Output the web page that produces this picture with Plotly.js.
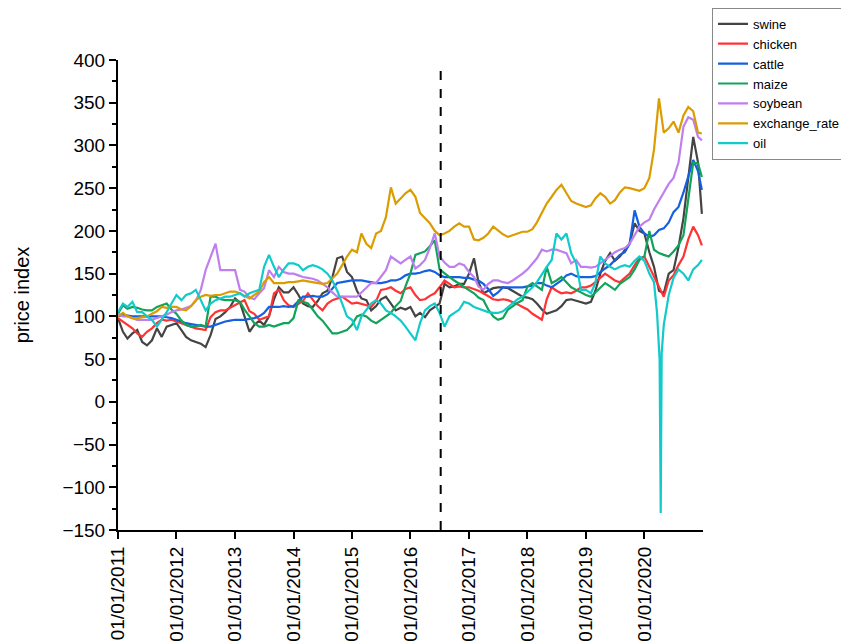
<!DOCTYPE html>
<html><head><meta charset="utf-8">
<script src="https://cdn.plot.ly/plotly-3.0.1.min.js"></script>
<style>html,body{margin:0;padding:0;background:#fff}#chart{width:841px;height:644px}</style>
</head><body><div id="chart"></div><script>
// monthly observation dates (1st of each month, 2011-01 .. 2020-12) plus the last observation
const months = [];
for (let y = 2011; y <= 2020; y++) for (let m = 1; m <= 12; m++) months.push(y + '-' + String(m).padStart(2, '0') + '-01');
months.push('2020-12-25');

const swine = [98,82,74,80,84,70,66,72,86,76,88,90,
 92,84,76,72,70,68,64,78,97,100,105,111,
 121,116,100,82,90,95,90,100,120,134,128,128,
 134,125,115,112,111,118,127,130,146,168,170,152,
 146,130,121,119,107,112,120,123,115,107,110,108,
 111,100,104,99,107,111,115,138,134,135,138,138,
 150,168,140,127,130,133,134,134,133,130,126,123,
 122,120,115,108,103,105,107,112,119,120,118,117,
 115,117,130,150,165,174,165,170,177,185,209,200,
 197,175,158,130,127,150,154,181,215,260,310,280,220];

const chicken = [98,94,90,86,80,76,82,86,92,96,95,96,
 94,92,90,88,86,85,84,99,105,107,107,110,
 113,116,119,106,103,96,98,100,127,131,119,113,
 111,115,118,127,119,112,107,115,119,121,123,119,
 115,116,115,113,111,118,131,132,134,130,127,132,
 134,125,119,120,124,127,134,142,138,134,135,134,
 134,132,130,127,124,120,119,120,119,117,114,111,
 108,103,100,96,120,134,130,127,128,127,130,134,
 134,136,140,145,150,146,142,140,145,150,160,168,
 170,158,145,135,123,142,148,160,170,190,205,195,183];

const cattle = [100,102,101,100,100,100,100,100,100,100,99,98,
 96,94,92,91,90,89,88,88,90,92,94,95,
 96,96,96,97,98,100,104,111,111,111,112,111,
 112,118,123,123,124,123,123,126,133,139,140,141,
 142,142,142,141,140,139,139,140,142,142,144,148,
 150,150,151,153,154,152,148,146,146,146,146,145,
 145,143,142,138,132,124,128,134,134,134,134,134,
 135,136,139,139,136,134,138,142,148,150,147,146,
 146,146,147,152,156,160,166,172,175,185,224,205,
 197,193,195,201,203,210,222,228,245,265,283,270,248];

const maize = [103,113,109,111,110,108,107,107,111,113,115,108,
 103,95,90,88,88,90,88,123,123,120,119,119,
 119,117,108,100,92,88,88,90,88,90,92,92,
 98,119,117,115,108,100,95,88,80,80,82,84,
 90,100,102,100,95,92,96,100,104,112,118,135,
 150,172,174,176,182,189,155,150,146,142,138,134,
 130,127,122,119,108,100,96,98,108,112,116,119,
 135,139,135,131,158,139,142,146,140,134,131,128,
 125,123,128,134,139,135,131,138,142,146,155,166,
 170,200,178,174,172,170,176,183,195,236,280,279,263];

const soybean = [103,100,100,98,96,96,96,96,98,100,102,105,
 107,108,110,112,118,131,154,170,185,154,154,154,
 154,131,129,122,120,127,133,154,146,158,152,150,
 150,148,146,145,144,142,138,134,128,123,123,123,
 123,123,128,134,139,139,146,154,170,166,162,166,
 170,156,160,166,180,197,170,163,158,158,162,160,
 152,146,135,131,138,142,142,140,139,142,146,150,
 155,162,168,178,176,178,178,176,174,162,166,158,
 158,157,158,162,166,170,175,178,180,185,195,205,
 210,213,225,236,245,255,262,280,322,333,330,310,306];

const exchangeRate = [100,104,100,98,98,99,100,103,106,111,110,111,
 111,108,107,112,119,123,125,124,125,125,127,129,
 129,127,124,121,125,129,140,146,139,139,139,140,
 140,141,142,141,140,139,138,139,145,150,160,170,
 178,175,197,185,180,197,200,216,251,232,238,244,
 248,240,221,215,209,200,195,197,200,205,209,205,
 205,190,189,192,197,205,200,196,193,195,197,199,
 199,202,210,221,232,240,248,254,245,235,232,230,
 228,230,238,244,240,232,236,245,251,250,248,247,
 250,262,295,355,315,320,328,315,335,345,340,315,314];

// oil: monthly through 2019, denser around the April 2020 crash
const oilDates = months.slice(0, 108).concat(['2020-01-01','2020-02-01','2020-03-01','2020-03-20','2020-04-05','2020-04-12','2020-04-18','2020-05-01','2020-06-01','2020-07-01','2020-08-01','2020-09-01','2020-10-01','2020-11-01','2020-12-01','2020-12-25']);
const oil = [105,115,111,117,105,105,100,96,88,96,105,115,
 125,119,125,127,131,119,107,115,119,121,123,123,
 125,127,123,127,129,131,158,172,158,146,155,162,
 162,160,154,158,160,158,155,150,142,130,115,100,
 96,84,100,107,115,119,115,107,104,100,95,88,
 80,72,92,107,112,115,104,88,100,104,108,117,
 115,111,109,107,105,104,104,106,111,115,120,123,
 128,134,140,150,158,166,197,190,197,174,162,131,
 131,127,139,170,162,158,155,158,160,158,165,170,
 165,150,140,104,50,-130,57,90,125,145,155,150,142,155,160,166];

const tickDates = ['2011-01-01','2012-01-01','2013-01-01','2014-01-01','2015-01-01','2016-01-01','2017-01-01','2018-01-01','2019-01-01','2020-01-01'];
const tickLabels = ['01/01/2011','01/01/2012','01/01/2013','01/01/2014','01/01/2015','01/01/2016','01/01/2017','01/01/2018','01/01/2019','01/01/2020'];
const breakDate = '2016-07-08';

const seriesNames = ['swine','chicken','cattle','maize','soybean','exchange_rate','oil'];
const seriesValues = [swine, chicken, cattle, maize, soybean, exchangeRate, oil];
const seriesDates = [months, months, months, months, months, months, oilDates];
const colors = ['#444444','#ff3333','#1560e0','#12a35a','#bf7fef','#db9c00','#12caca'];

const traces = seriesNames.map((n, i) => ({
  type: 'scatter', mode: 'lines', name: n,
  x: seriesDates[i], y: seriesValues[i],
  line: {color: colors[i], width: 2.2}
}));

const layout = {
  width: 841, height: 644,
  margin: {l: 118, r: 138, t: 60, b: 114, autoexpand: false},
  paper_bgcolor: '#fff', plot_bgcolor: '#fff',
  font: {family: '"Liberation Sans", Arial, sans-serif', color: '#000'},
  showlegend: true,
  legend: {x: 1.0154, y: 1.111, xanchor: 'left', yanchor: 'top', bgcolor: '#fff',
    bordercolor: '#888', borderwidth: 1, font: {size: 13}, tracegroupgap: 0},
  xaxis: {type: 'date', range: ['2011-01-01', '2021-01-01'], tickmode: 'array',
    tickvals: tickDates, ticktext: tickLabels, tickangle: -90,
    ticks: 'outside', ticklen: 7, tickwidth: 2, tickcolor: '#000',
    showline: true, linewidth: 2, linecolor: '#000', showgrid: false, zeroline: false,
    tickfont: {size: 19}},
  yaxis: {range: [-150, 400], tick0: 0, dtick: 50,
    ticks: 'outside', ticklen: 7, tickwidth: 2, tickcolor: '#000',
    minor: {dtick: 25, ticks: 'outside', ticklen: 4, tickwidth: 2, tickcolor: '#000', showgrid: false},
    showline: true, linewidth: 2, linecolor: '#000', showgrid: false, zeroline: false,
    tickfont: {size: 19}, title: {text: 'price index', font: {size: 20}, standoff: 27}},
  shapes: [{type: 'line', xref: 'x', yref: 'y', x0: breakDate, x1: breakDate, y0: -150, y1: 396,
    line: {color: '#000', width: 2, dash: 'dash'}}]
};

Plotly.newPlot('chart', traces, layout, {displayModeBar: false, staticPlot: true});
</script></body></html>
